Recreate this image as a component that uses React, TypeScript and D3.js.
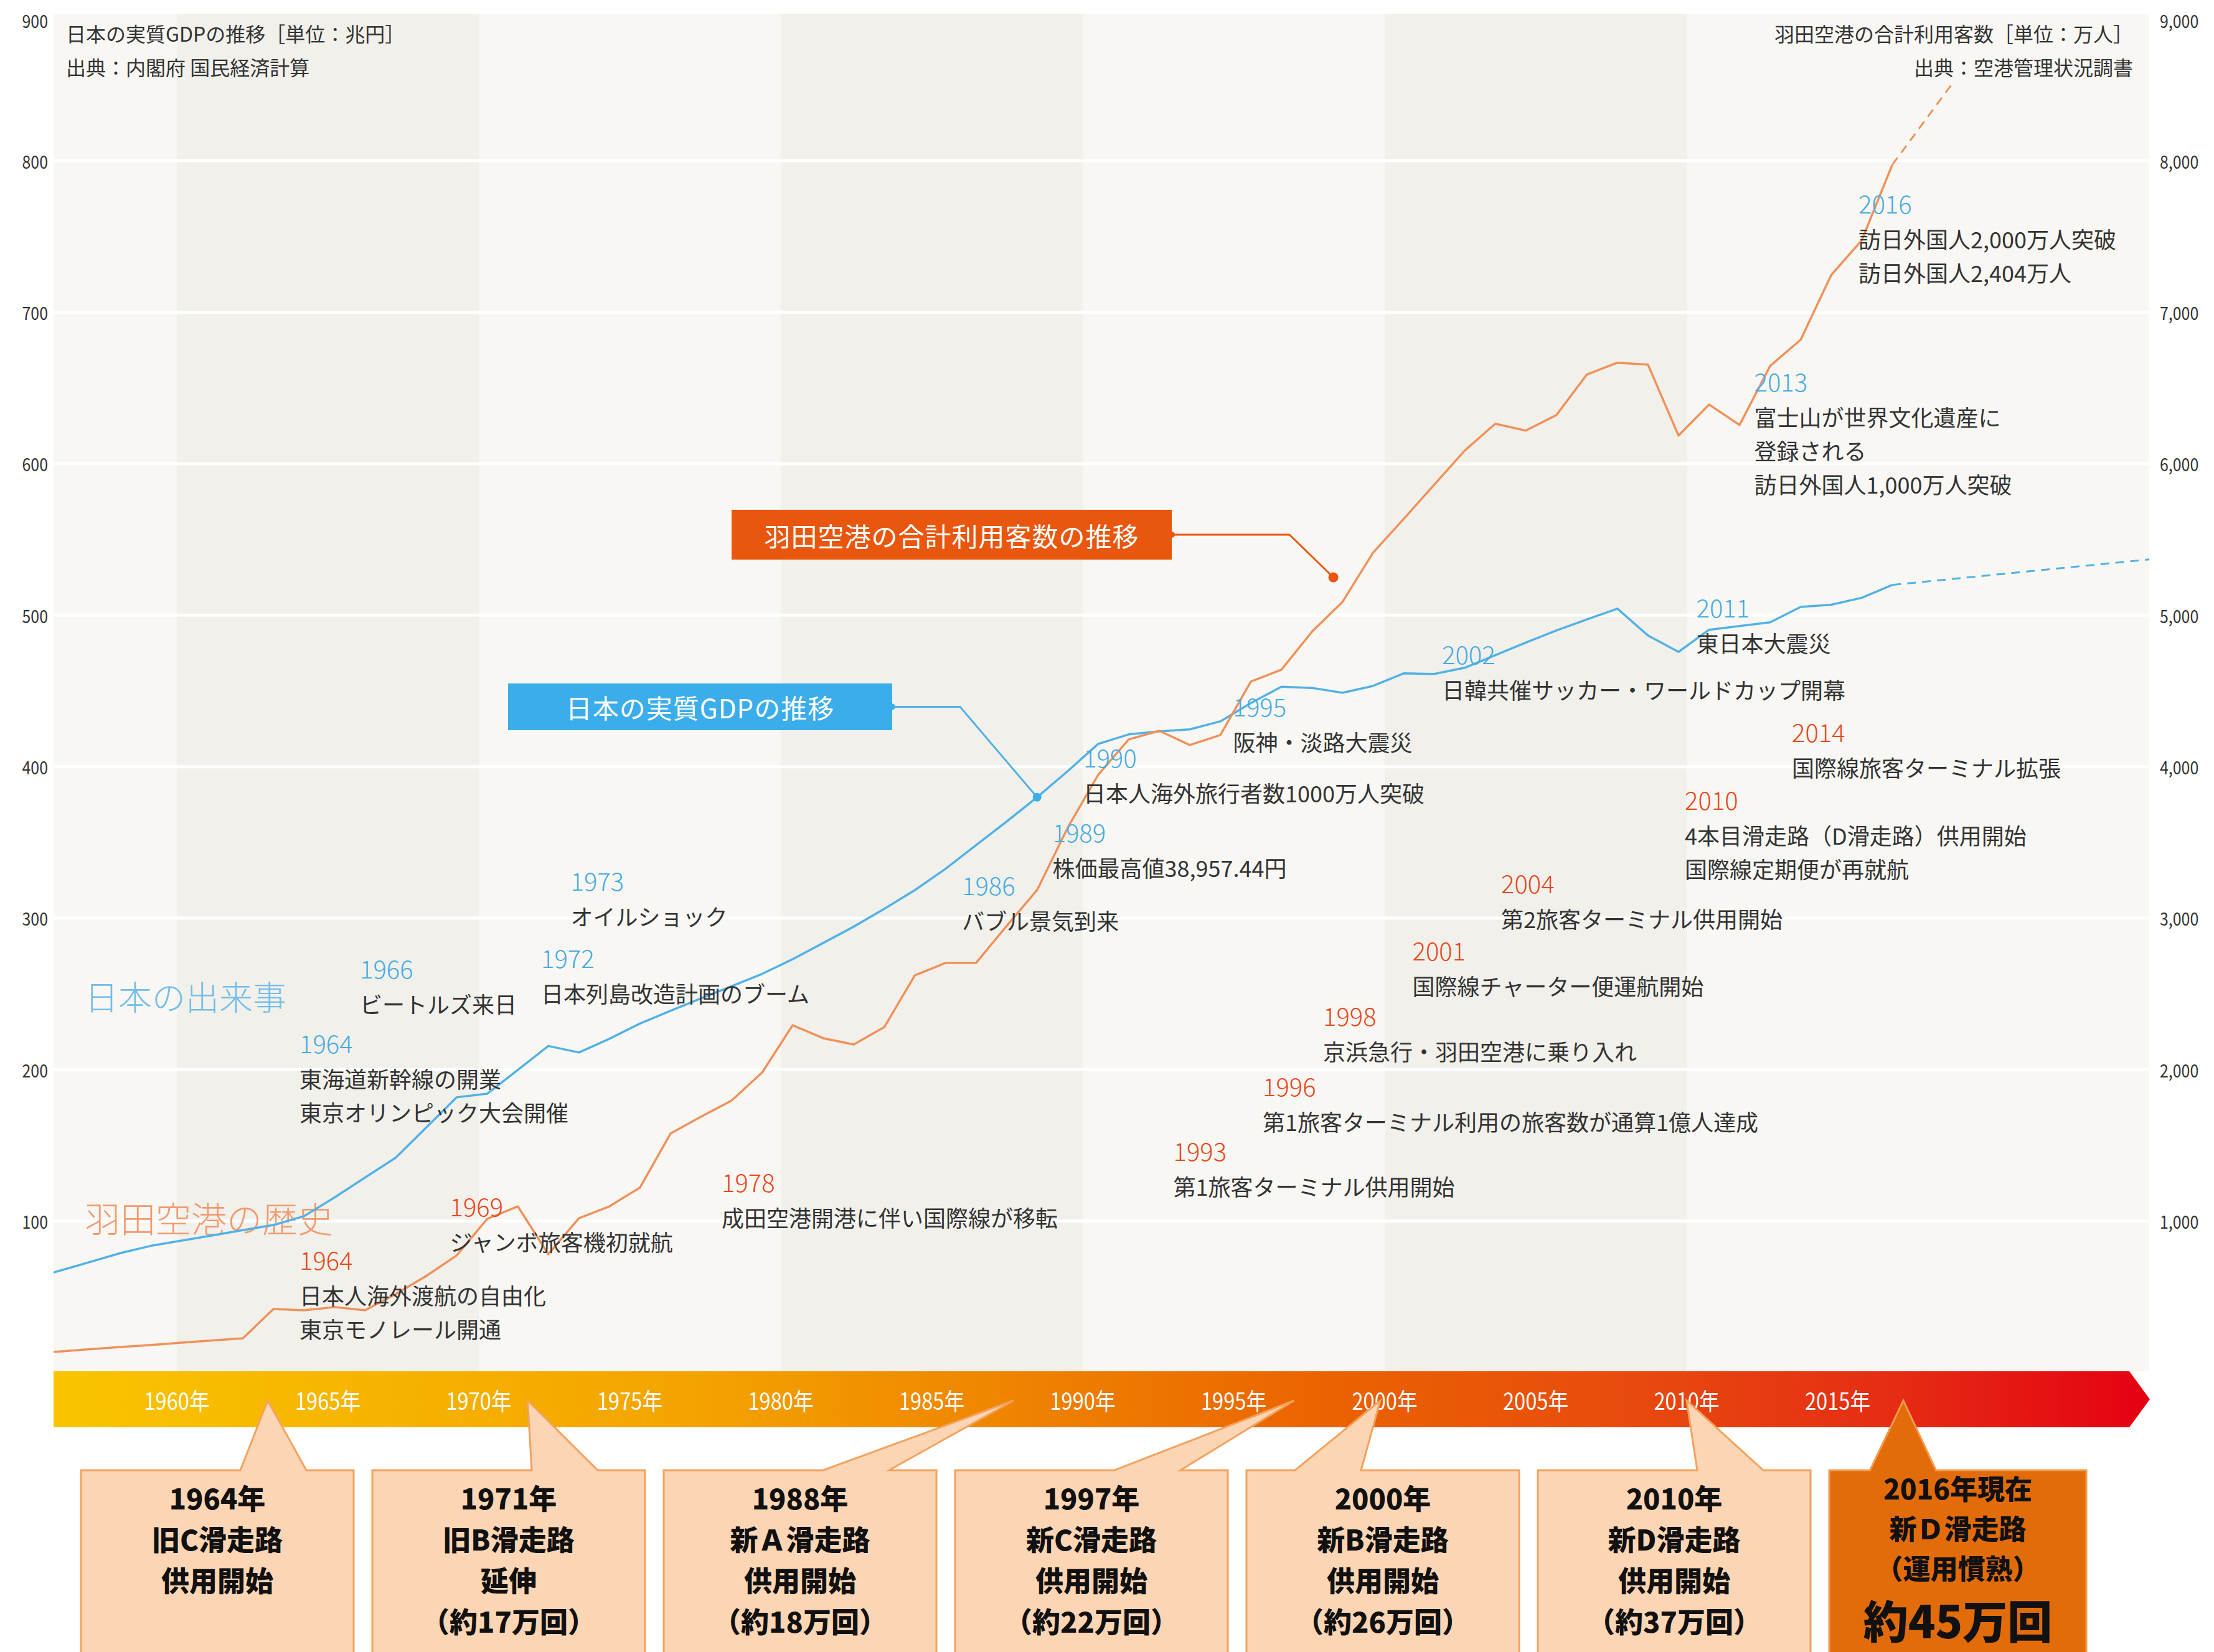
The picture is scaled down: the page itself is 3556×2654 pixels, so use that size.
import React from 'react';
import * as d3 from 'd3';

const W = 3556;
const H = 2654;
const FONT = "'Noto Sans CJK JP', 'Noto Sans', sans-serif";

// ---------------- data ----------------
const years = [
  1955, 1956, 1957, 1958, 1959, 1960, 1961, 1962, 1963, 1964, 1965, 1966, 1967, 1968, 1969,
  1970, 1971, 1972, 1973, 1974, 1975, 1976, 1977, 1978, 1979, 1980, 1981, 1982, 1983, 1984,
  1985, 1986, 1987, 1988, 1989, 1990, 1991, 1992, 1993, 1994, 1995, 1996, 1997, 1998, 1999,
  2000, 2001, 2002, 2003, 2004, 2005, 2006, 2007, 2008, 2009, 2010, 2011, 2012, 2013, 2014,
  2015, 2016,
];
// 日本の実質GDP [兆円]
const gdpValues = [
  61.4, 67.2, 73.0, 78.9, 83.7, 87.1, 90.5, 94.0, 97.4, 103.2, 115.6, 128.7, 141.8, 161.7, 181.7,
  184.1, 199.8, 215.6, 211.3, 220.3, 230.4, 238.8, 247.0, 255.1, 263.2, 272.9, 283.6, 294.4, 306.2, 318.5,
  332.5, 348.1, 363.7, 379.8, 397.0, 415.0, 421.3, 423.3, 424.6, 429.9, 442.0, 452.8, 452.0, 448.8, 453.3,
  461.6, 461.2, 465.3, 473.6, 481.9, 489.9, 497.2, 504.3, 486.6, 475.8, 490.4, 492.8, 495.3, 505.5, 506.9,
  511.5, 520.0,
];
const gdpOutlookYears = [2016, 2025];
const gdpOutlookValues = [520.0, 538.0];

// 羽田空港の合計利用客数 [万人]
const paxValues = [
  125, 139, 154, 168, 182, 197, 212, 226, 419, 411, 432, 411, 518, 637, 773,
  1015, 1097, 781, 1019, 1097, 1221, 1578, 1689, 1796, 1981, 2293, 2207, 2166, 2281, 2622,
  2704, 2704, 2947, 3185, 3596, 3946, 4180, 4237, 4143, 4209, 4562, 4640, 4891, 5088, 5413,
  5635, 5861, 6087, 6264, 6219, 6321, 6589, 6667, 6654, 6186, 6391, 6256, 6646, 6819, 7246,
  7476, 7974,
];
const paxOutlookYears = [2016, 2018];
const paxOutlookValues = [7974, 8520];

const leftTicks = [100, 200, 300, 400, 500, 600, 700, 800, 900];
const rightTicks = [1000, 2000, 3000, 4000, 5000, 6000, 7000, 8000, 9000];
const timelineYears = [1960, 1965, 1970, 1975, 1980, 1985, 1990, 1995, 2000, 2005, 2010, 2015];
const shadedDecades = [1960, 1980, 2000];

const japanEvents = [
  { year: 1964, lines: ['東海道新幹線の開業', '東京オリンピック大会開催'], at: 218, dx: 3 },
  { year: 1966, lines: ['ビートルズ来日'], at: 267, dx: 3 },
  { year: 1972, lines: ['日本列島改造計画のブーム'], at: 274, dx: 3 },
  { year: 1973, lines: ['オイルショック'], at: 325, dx: 2 },
  { year: 1986, lines: ['バブル景気到来'], at: 322, dx: 0 },
  { year: 1989, lines: ['株価最高値38,957.44円'], at: 357, dx: 0 },
  { year: 1990, lines: ['日本人海外旅行者数1000万人突破'], at: 406.5, dx: 1 },
  { year: 1995, lines: ['阪神・淡路大震災'], at: 440, dx: -1 },
  { year: 2002, lines: ['日韓共催サッカー・ワールドカップ開幕'], at: 474.5, dx: -5 },
  { year: 2011, lines: ['東日本大震災'], at: 505.5, dx: -33 },
  { year: 2013, lines: ['富士山が世界文化遺産に', '登録される', '訪日外国人1,000万人突破'], at: 654.5, dx: -37 },
  { year: 2016, lines: ['訪日外国人2,000万人突破', '訪日外国人2,404万人'], at: 772, dx: -15 },
];

const hanedaEvents = [
  { year: 1964, lines: ['日本人海外渡航の自由化', '東京モノレール開通'], at: 74.8, dx: 3 },
  { year: 1969, lines: ['ジャンボ旅客機初就航'], at: 110.2, dx: 2 },
  { year: 1978, lines: ['成田空港開港に伴い国際線が移転'], at: 126.2, dx: 2 },
  { year: 1993, lines: ['第1旅客ターミナル供用開始'], at: 146.7, dx: 0 },
  { year: 1996, lines: ['第1旅客ターミナル利用の旅客数が通算1億人達成'], at: 189.5, dx: -2 },
  { year: 1998, lines: ['京浜急行・羽田空港に乗り入れ'], at: 235.9, dx: -2 },
  { year: 2001, lines: ['国際線チャーター便運航開始'], at: 279.1, dx: -4 },
  { year: 2004, lines: ['第2旅客ターミナル供用開始'], at: 323.5, dx: -7 },
  { year: 2010, lines: ['4本目滑走路（D滑走路）供用開始', '国際線定期便が再就航'], at: 378.5, dx: -3 },
  { year: 2014, lines: ['国際線旅客ターミナル拡張'], at: 423.3, dx: -25 },
];

const runwayBoxes = [
  { year: 1964, lines: ['1964年', '旧C滑走路', '供用開始'], dx: -48 },
  { year: 1971, lines: ['1971年', '旧B滑走路', '延伸', '（約17万回）'], dx: 30 },
  { year: 1988, lines: ['1988年', '新Ａ滑走路', '供用開始', '（約18万回）'], dx: -14 },
  { year: 1997, lines: ['1997年', '新C滑走路', '供用開始', '（約22万回）'], dx: 0 },
  { year: 2000, lines: ['2000年', '新B滑走路', '供用開始', '（約26万回）'], dx: -7 },
  { year: 2010, lines: ['2010年', '新D滑走路', '供用開始', '（約37万回）'], dx: 0 },
  { year: 2016, lines: ['2016年現在', '新Ｄ滑走路', '（運用慣熟）', '約45万回'], dx: 57 },
];

// ---------------- layout ----------------
const plot = { left: 86, right: 3452, top: 22, bottom: 2203 };
const bar = { top: 2203, bottom: 2293, end: 3420, tip: 3453 };

const xData = d3.scaleLinear().domain([1960, 2016]).range([292, 292 + 56 * 49.06]);
const xAxis = d3.scaleLinear().domain([1960, 2015]).range([284, 284 + 55 * 48.5]);
const yLeft = d3.scaleLinear().domain([0, 900]).range([2205, 15]);
const yRight = d3.scaleLinear().domain([0, 9000]).range([2205, 15]);

const BLUE = '#47abe2';
const BLUE_LINE = '#52b1e6';
const ORANGE_LINE = '#f0915a';
const RED = '#e8481c';

function zip(a: number[], b: number[]): [number, number][] {
  return a.map((v, i) => [v, b[i]] as [number, number]);
}

export default function App() {
  const gdpLine = d3
    .line<[number, number]>()
    .x((d) => xData(d[0]))
    .y((d) => yLeft(d[1]));
  const paxLine = d3
    .line<[number, number]>()
    .x((d) => xData(d[0]))
    .y((d) => yRight(d[1]));

  const gdpPath = gdpLine(zip(years, gdpValues)) || '';
  const gdpOutlook = gdpLine(zip(gdpOutlookYears, gdpOutlookValues)) || '';
  const paxPath = paxLine(zip(years, paxValues)) || '';
  const paxOutlook = paxLine(zip(paxOutlookYears, paxOutlookValues)) || '';

  // callouts
  const gdpTargetYear = 1988;
  const gdpTarget = [xData(gdpTargetYear), yLeft(gdpValues[years.indexOf(gdpTargetYear)])];
  const paxTarget = [xData(1997.7), yRight(5250)];
  const blueBox = { x: 816, y: 1098, w: 617, h: 75, elbow: 1542 };
  const orangeBox = { x: 1175, y: 819, w: 707, h: 80, elbow: 2071 };

  // runway boxes
  const boxScale = d3
    .scaleBand<number>()
    .domain(runwayBoxes.map((_, i) => i))
    .range([130, 130 + 7 * 468 - 30])
    .paddingInner(30 / 468)
    .paddingOuter(0);
  const boxTop = 2362;
  const boxBottom = 2660;
  const apexY = 2250;

  const condensed = (x: number, y: number) => `translate(${x},${y}) scale(0.86,1)`;

  return (
    <svg
      width={W}
      height={H}
      viewBox={`0 0 ${W} ${H}`}
      style={{ position: 'absolute', left: 0, top: 0, display: 'block', background: '#ffffff' }}
      fontFamily={FONT}
    >
      <defs>
        <linearGradient id="barGrad" gradientUnits="userSpaceOnUse" x1={plot.left} x2={bar.tip} y1="0" y2="0">
          <stop offset="0" stopColor="#f9c400" />
          <stop offset="0.3" stopColor="#f4a400" />
          <stop offset="0.48" stopColor="#ee7f00" />
          <stop offset="0.6" stopColor="#eb6400" />
          <stop offset="0.75" stopColor="#e84b0e" />
          <stop offset="0.88" stopColor="#e52c14" />
          <stop offset="1" stopColor="#e50012" />
        </linearGradient>
        <clipPath id="plotClip">
          <rect x={plot.left} y={plot.top} width={plot.right - plot.left} height={plot.bottom - plot.top} />
        </clipPath>
      </defs>

      {/* background */}
      <rect x={plot.left} y={plot.top} width={plot.right - plot.left} height={plot.bottom - plot.top} fill="#f8f7f3" />
      {shadedDecades.map((d) => (
        <rect
          key={d}
          x={xAxis(d)}
          y={plot.top}
          width={xAxis(d + 10) - xAxis(d)}
          height={plot.bottom - plot.top}
          fill="#f1f0eb"
        />
      ))}

      {/* grid */}
      <g clipPath="url(#plotClip)">
        {leftTicks.map((t) => (
          <line key={t} x1={plot.left} x2={plot.right} y1={yLeft(t)} y2={yLeft(t)} stroke="#ffffff" strokeWidth={5} />
        ))}
      </g>

      {/* axis labels */}
      {leftTicks.map((t) => (
        <text
          key={t}
          transform={condensed(77, Math.max(yLeft(t), 33))}
          textAnchor="end"
          dominantBaseline="central"
          fontSize={29}
          fill="#333"
        >
          {t}
        </text>
      ))}
      {rightTicks.map((t) => (
        <text
          key={t}
          transform={condensed(3469, Math.max(yRight(t), 33))}
          textAnchor="start"
          dominantBaseline="central"
          fontSize={29}
          fill="#333"
        >
          {d3.format(',')(t)}
        </text>
      ))}

      {/* titles */}
      <text x={106} y={53} fontSize={32} fill="#333" dominantBaseline="central">
        日本の実質GDPの推移［単位：兆円］
      </text>
      <text x={106} y={107} fontSize={32} fill="#333" dominantBaseline="central">
        出典：内閣府 国民経済計算
      </text>
      <text x={3426} y={53} fontSize={32} fill="#333" textAnchor="end" dominantBaseline="central">
        羽田空港の合計利用客数［単位：万人］
      </text>
      <text x={3426} y={107} fontSize={32} fill="#333" textAnchor="end" dominantBaseline="central">
        出典：空港管理状況調書
      </text>

      {/* section labels */}
      <text x={136} y={1599} fontSize={54} fill="#74bde8" dominantBaseline="central" fontWeight={300}>
        日本の出来事
      </text>
      <text x={136} y={1955} fontSize={57} fill="#f29b6e" dominantBaseline="central" fontWeight={300}>
        羽田空港の歴史
      </text>

      {/* lines */}
      <g clipPath="url(#plotClip)" fill="none" strokeLinejoin="round">
        <path d={gdpPath} stroke={BLUE_LINE} strokeWidth={3.5} />
        <path d={gdpOutlook} stroke={BLUE_LINE} strokeWidth={3} strokeDasharray="14 10" />
        <path d={paxPath} stroke={ORANGE_LINE} strokeWidth={3.5} />
        <path d={paxOutlook} stroke={ORANGE_LINE} strokeWidth={3} strokeDasharray="14 10" />
      </g>

      {/* event labels */}
      {[
        { list: japanEvents, color: BLUE, k: 'j' },
        { list: hanedaEvents, color: RED, k: 'h' },
      ].map((grp) =>
        grp.list.map((e) => {
          const x = xAxis(e.year) + e.dx;
          const y = yLeft(e.at);
          return (
            <g key={grp.k + e.year}>
              <text x={x} y={y} fontSize={40} fill={grp.color} dominantBaseline="central" fontWeight={300}>
                {e.year}
              </text>
              {e.lines.map((l, i) => (
                <text key={i} x={x} y={y + 57 + i * 54} fontSize={36} fill="#333" dominantBaseline="central">
                  {l}
                </text>
              ))}
            </g>
          );
        })
      )}

      {/* callouts */}
      <g>
        <path
          d={`M${blueBox.x + blueBox.w},${blueBox.y + blueBox.h / 2} H${blueBox.elbow} L${gdpTarget[0]},${gdpTarget[1]}`}
          fill="none"
          stroke={BLUE_LINE}
          strokeWidth={3}
        />
        <rect x={blueBox.x} y={blueBox.y} width={blueBox.w} height={blueBox.h} fill="#3badea" />
        <circle cx={blueBox.x + blueBox.w} cy={blueBox.y + blueBox.h / 2} r={5} fill="#3badea" />
        <circle cx={gdpTarget[0]} cy={gdpTarget[1]} r={7} fill="#3badea" />
        <text
          x={blueBox.x + blueBox.w / 2}
          y={blueBox.y + blueBox.h / 2}
          fontSize={42}
          fill="#fff"
          textAnchor="middle"
          dominantBaseline="central"
          letterSpacing={1}
        >
          日本の実質GDPの推移
        </text>

        <path
          d={`M${orangeBox.x + orangeBox.w},${orangeBox.y + orangeBox.h / 2} H${orangeBox.elbow} L${paxTarget[0]},${paxTarget[1]}`}
          fill="none"
          stroke="#e9580f"
          strokeWidth={3}
        />
        <rect x={orangeBox.x} y={orangeBox.y} width={orangeBox.w} height={orangeBox.h} fill="#e9560d" />
        <circle cx={orangeBox.x + orangeBox.w} cy={orangeBox.y + orangeBox.h / 2} r={5} fill="#e9560d" />
        <circle cx={paxTarget[0]} cy={paxTarget[1]} r={8} fill="#e9560d" />
        <text
          x={orangeBox.x + orangeBox.w / 2}
          y={orangeBox.y + orangeBox.h / 2}
          fontSize={42}
          fill="#fff"
          textAnchor="middle"
          dominantBaseline="central"
          letterSpacing={1}
        >
          羽田空港の合計利用客数の推移
        </text>
      </g>

      {/* timeline bar */}
      <path
        d={`M${plot.left},${bar.top} H${bar.end} L${bar.tip},${(bar.top + bar.bottom) / 2} L${bar.end},${bar.bottom} H${plot.left} Z`}
        fill="url(#barGrad)"
      />
      {timelineYears.map((y) => (
        <text
          key={y}
          transform={condensed(xAxis(y), (bar.top + bar.bottom) / 2)}
          fontSize={38}
          fill="#fff"
          textAnchor="middle"
          dominantBaseline="central"
        >
          {y}年
        </text>
      ))}

      {/* runway boxes */}
      {runwayBoxes.map((b, i) => {
        const x0 = boxScale(i) as number;
        const last = i === runwayBoxes.length - 1;
        const bw = last ? 413 : boxScale.bandwidth();
        const cx = x0 + bw / 2;
        const apexX = xAxis(b.year) + b.dx;
        const baseC = cx + (apexX > cx ? 90 : -88);
        const d = `M${x0},${boxBottom} V${boxTop} H${baseC - 53} L${apexX},${apexY} L${baseC + 53},${boxTop} H${x0 + bw} V${boxBottom} Z`;
        return (
          <g key={b.year}>
            <path d={d} fill={last ? '#e36c0a' : '#fcd5b4'} stroke={last ? '#f39a4f' : '#f3a25e'} strokeWidth={3} />
            {b.lines.map((l, j) => {
              const big = last && j === 3;
              const y = last ? (big ? 2600 : 2390 + j * 64) : 2405 + j * 66;
              return (
                <text
                  key={j}
                  x={cx}
                  y={y}
                  fontSize={big ? 72 : last ? 44 : 45}
                  fontWeight={900}
                  fill="#111"
                  textAnchor="middle"
                  dominantBaseline="central"
                >
                  {l}
                </text>
              );
            })}
          </g>
        );
      })}
    </svg>
  );
}
